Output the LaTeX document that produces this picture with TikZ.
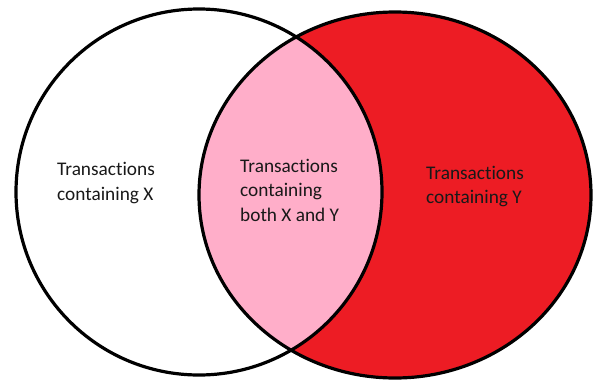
\documentclass[tikz,border=0pt]{standalone}
\usepackage{fontspec}
\setmainfont{Carlito}[Ligatures={NoCommon,NoRare}]
\definecolor{vennred}{HTML}{ED1C24}
\definecolor{vennpink}{HTML}{FFAEC9}
\tikzset{
  setline/.style={line width=3.2pt},
  setlabel/.style={font=\fontsize{19.3}{24.5}\selectfont, align=left, anchor=west, inner sep=0pt, text=black!90}
}
\begin{document}
\begin{tikzpicture}[x=1pt, y=-1pt]
  \useasboundingbox (0,0) rectangle (593,380);
  % set Y in red, the overlap in pink
  \fill[vennred] (395,195) ellipse [x radius=196, y radius=183];
  \begin{scope}
    \clip (199,192) circle [radius=183];
    \fill[vennpink] (395,195) ellipse [x radius=196, y radius=183];
  \end{scope}
  % outlines
  \draw[setline] (199,192) circle [radius=183];
  \draw[setline] (395,195) ellipse [x radius=196, y radius=183];
  % labels
  \node[setlabel] (lblX) at (57,182.8) {Transactions\\containing X};
  \node[setlabel] (lblXY) at (240,190) {Transactions\\containing\\both X and Y};
  \node[setlabel] (lblY) at (426,186.3) {Transactions\\containing Y};
\end{tikzpicture}
\end{document}
